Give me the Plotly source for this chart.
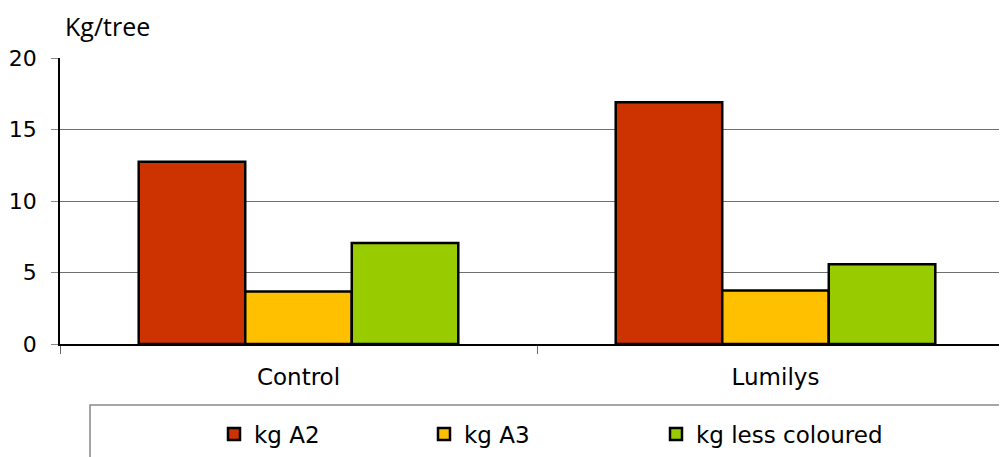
import plotly.graph_objects as go

categories = ["Control", "Lumilys"]
series_names = ["kg A2", "kg A3", "kg less coloured"]
kg_a2 = [12.74, 16.9]
kg_a3 = [3.68, 3.75]
kg_less = [7.06, 5.57]
colors = ["#CC3300", "#FFC000", "#99CC00"]
y_ticks = [0, 5, 10, 15, 20]

# page body has an 8px margin; compensate so the screen positions match
OFF = 8
W, H = 1007 - OFF, 457 - OFF
ML, MR, MT, MB = 60 - OFF, 0, 58 - OFF, 113
PW = W - ML - MR
PH = H - MT - MB

def px_to_paper_x(px):
    return (px - OFF - ML) / PW

def px_to_paper_y(py):
    return (H - MB - (py - OFF)) / PH

fig = go.Figure()
legend_ids = ["legend", "legend2", "legend3"]
for name, vals, col, lg in zip(series_names, [kg_a2, kg_a3, kg_less], colors, legend_ids):
    fig.add_trace(go.Bar(
        x=categories, y=vals, name=name, legend=lg,
        marker=dict(color=col, line=dict(color="#000000", width=2.5)),
    ))

font_main = "DejaVu Sans"
legend_common = dict(
    orientation="h", yanchor="middle", xanchor="left",
    y=px_to_paper_y(434), bgcolor="rgba(0,0,0,0)",
    font=dict(family=font_main, size=23, color="#000000"),
    itemwidth=30,
)
fig.update_layout(
    width=W, height=H,
    margin=dict(l=ML, r=MR, t=MT, b=MB),
    paper_bgcolor="white", plot_bgcolor="white",
    barmode="group", bargap=0.33, bargroupgap=0,
    showlegend=True,
    legend=dict(x=px_to_paper_x(214), **legend_common),
    legend2=dict(x=px_to_paper_x(424), **legend_common),
    legend3=dict(x=px_to_paper_x(656), **legend_common),
    font=dict(family=font_main, size=22, color="#000000"),
)
fig.update_xaxes(
    range=[-0.5, -0.5 + (1007 - 60) / 477.0],
    showline=True, linecolor="#000000", linewidth=1.5,
    ticks="outside", tickson="boundaries", ticklen=8, tickcolor="#666666",
    showgrid=False, tickfont=dict(family=font_main, size=23, color="#000000"),
    ticklabelstandoff=12,
    fixedrange=True,
)
fig.update_yaxes(
    range=[0, 20], tickvals=y_ticks,
    showline=True, linecolor="#000000", linewidth=1.5,
    ticks="outside", ticklen=7, tickcolor="#888888",
    showgrid=True, gridcolor="#6f6f6f", gridwidth=1.3,
    zeroline=False,
    tickfont=dict(family=font_main, size=22, color="#000000"),
    ticklabelstandoff=10,
)
# legend frame
fig.add_shape(type="rect", xref="paper", yref="paper",
              x0=px_to_paper_x(90), x1=px_to_paper_x(1003),
              y0=px_to_paper_y(405), y1=px_to_paper_y(470),
              line=dict(color="#888888", width=1.5), fillcolor="rgba(0,0,0,0)")
# axis title
fig.add_annotation(text="Kg/tree", xref="paper", yref="paper",
                   x=px_to_paper_x(63), y=px_to_paper_y(45),
                   xanchor="left", yanchor="bottom", showarrow=False,
                   font=dict(family="Open Sans", size=25, color="#000000"))

fig.write_html("out.html")
